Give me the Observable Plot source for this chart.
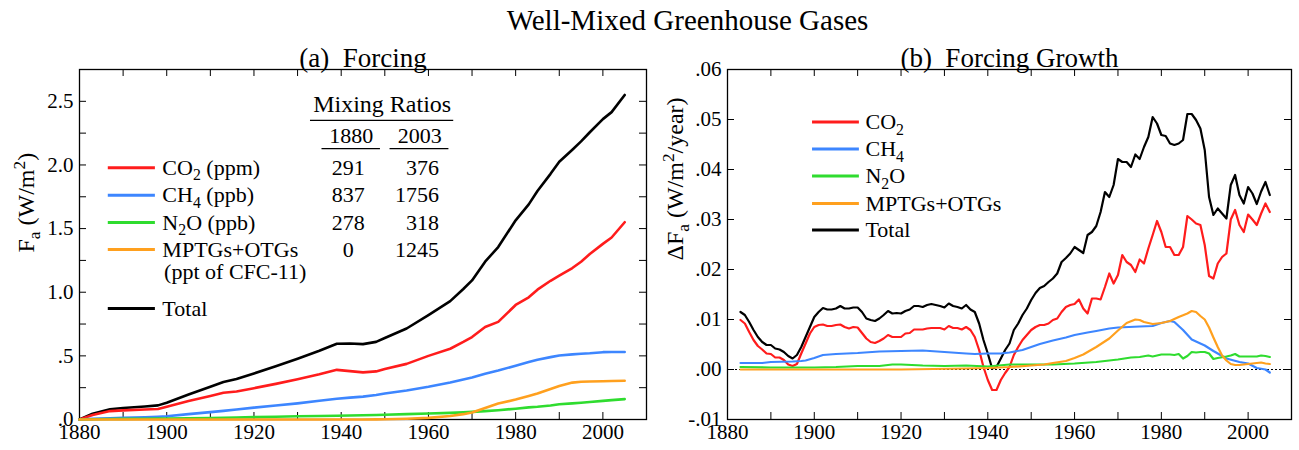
<!DOCTYPE html>
<html><head><meta charset="utf-8">
<script src="https://cdn.jsdelivr.net/npm/d3@7"></script>
<script src="https://cdn.jsdelivr.net/npm/@observablehq/plot@0.6"></script>
<style>
body{margin:0;background:#fff;}
#title{height:36px;line-height:40px;margin-left:76px;text-align:center;font-family:'Liberation Serif','Times New Roman',serif;font-size:29px;color:#000;white-space:nowrap;}
#row{display:flex;}
</style></head><body>
<div id="title">Well-Mixed Greenhouse Gases</div>
<div id="row"></div>
<script>
// ---------------- DATA ----------------
// Panel (a): forcing (W/m2)
const forcingYears = [1880,1883,1887,1890,1895,1898,1900,1905,1910,1913,1916,1920,1925,1930,1935,1939,1942,1945,1948,1950,1955,1960,1965,1968,1970,1973,1976,1980,1983,1985,1988,1990,1993,1995,1997,2000,2002,2005];
const forcingTotal = [0,0.045,0.08,0.09,0.102,0.111,0.132,0.197,0.258,0.295,0.318,0.362,0.418,0.478,0.54,0.595,0.597,0.592,0.61,0.64,0.715,0.82,0.93,1.025,1.093,1.24,1.355,1.565,1.69,1.795,1.93,2.025,2.12,2.185,2.257,2.36,2.415,2.55];
const forcingCO2 = [0,0.035,0.066,0.072,0.078,0.082,0.10,0.145,0.185,0.21,0.22,0.246,0.28,0.317,0.355,0.39,0.38,0.37,0.378,0.397,0.437,0.50,0.556,0.61,0.648,0.727,0.767,0.90,0.96,1.02,1.09,1.13,1.19,1.24,1.30,1.38,1.43,1.55];
const forcingCH4 = [0,0.005,0.01,0.013,0.018,0.022,0.026,0.042,0.058,0.068,0.078,0.093,0.11,0.127,0.147,0.163,0.172,0.18,0.192,0.204,0.228,0.257,0.29,0.315,0.33,0.36,0.385,0.423,0.452,0.47,0.49,0.503,0.512,0.516,0.52,0.529,0.53,0.53];
const forcingN2O = [0,0.002,0.004,0.005,0.006,0.007,0.008,0.01,0.012,0.014,0.016,0.019,0.022,0.025,0.028,0.03,0.031,0.033,0.035,0.037,0.042,0.047,0.052,0.056,0.06,0.066,0.073,0.085,0.095,0.10,0.11,0.12,0.127,0.132,0.138,0.146,0.152,0.16];
const forcingMPTG = [0,0,0,0,0,0,0,0,0,0,0,0,0,0,0,0,0,0,0.001,0.002,0.006,0.013,0.027,0.042,0.055,0.09,0.125,0.157,0.185,0.205,0.24,0.263,0.29,0.297,0.299,0.301,0.303,0.305];

// Panel (b): forcing growth (W/m2/year)
const growthYears = d3.range(1883, 2006);
const growthTotal = [0.0115,0.0109,0.0095,0.0079,0.0065,0.0055,0.0049,0.0049,0.0042,0.0040,0.0035,0.0027,0.0022,0.0029,0.0045,0.0065,0.0085,
0.0105,0.0115,0.0123,0.0120,0.0120,0.0122,0.0127,0.0122,0.0122,0.0124,
0.0124,0.0115,0.0102,0.0099,0.0097,0.0102,0.0109,0.0117,0.0112,0.0113,
0.0112,0.0117,0.0120,0.0127,0.0127,0.0125,0.0129,0.0131,0.0129,0.0127,
0.0124,0.0132,0.0127,0.0125,0.0122,0.0129,0.0120,0.0115,0.0092,0.0059,
0.0032,0.0002,0.0005,0.0022,0.0039,0.0052,0.0079,0.0092,0.0109,0.0122,
0.0139,0.0153,0.0163,0.0167,0.0175,0.0182,0.0192,0.0215,0.0223,0.0232,
0.0245,0.0239,0.0233,0.0269,0.0275,0.0287,0.0315,0.0355,0.0345,0.0369,
0.0421,0.0415,0.0415,0.0405,0.0430,0.0421,0.0445,0.0465,0.0505,0.0492,
0.0469,0.0467,0.0452,0.0449,0.0452,0.0459,0.0511,0.0511,0.0499,0.0482,
0.0439,0.0345,0.0309,0.0322,0.0312,0.0302,0.0369,0.0389,0.0349,0.0332,
0.0365,0.0352,0.0331,0.0356,0.0375,0.0349];
const growthCO2 = [0.0099,0.0092,0.0075,0.0059,0.0047,0.0040,0.0032,0.0031,0.0024,0.0024,0.0019,0.0010,0.0007,0.0011,0.0032,0.0052,0.0072,
0.0085,0.0089,0.0090,0.0087,0.0087,0.0089,0.0090,0.0085,0.0082,0.0085,
0.0084,0.0073,0.0062,0.0055,0.0053,0.0057,0.0062,0.0069,0.0065,0.0065,
0.0065,0.0072,0.0073,0.0080,0.0080,0.0080,0.0082,0.0083,0.0083,0.0083,
0.0080,0.0087,0.0083,0.0083,0.0080,0.0085,0.0079,0.0065,0.0039,0.0005,
-0.0021,-0.0041,-0.0041,-0.0021,-0.0007,0.0005,0.0029,0.0045,0.0059,0.0069,
0.0079,0.0085,0.0089,0.0089,0.0092,0.0099,0.0102,0.0115,0.0125,0.0129,
0.0131,0.0140,0.0122,0.0112,0.0142,0.0142,0.0140,0.0165,0.0192,0.0172,
0.0189,0.0229,0.0215,0.0209,0.0195,0.0220,0.0212,0.0242,0.0269,0.0297,
0.0275,0.0245,0.0245,0.0229,0.0229,0.0245,0.0307,0.0300,0.0292,0.0289,
0.0249,0.0187,0.0182,0.0212,0.0225,0.0232,0.0300,0.0319,0.0289,0.0275,
0.0310,0.0300,0.0289,0.0312,0.0332,0.0315];
const ch4Years = [1883,1888,1890,1895,1897,1898,1900,1902,1905,1910,1915,1920,1925,1930,1935,1937,1940,1943,1945,1948,1950,1952,1955,1958,1960,1963,1965,1968,1970,1975,1978,1980,1982,1983,1985,1987,1989,1990,1992,1995,1998,2000,2002,2004,2005];
const growthCH4 = [0.0013,0.0013,0.0015,0.0016,0.0017,0.0018,0.0023,0.0029,0.0031,0.0033,0.0036,0.0037,0.0038,0.0035,0.0032,0.0031,0.0032,0.0032,0.0034,0.0039,0.0045,0.0051,0.0058,0.0064,0.0069,0.0074,0.0077,0.0082,0.0084,0.0086,0.0087,0.0093,0.0097,0.0095,0.0079,0.0060,0.0052,0.0048,0.0037,0.0022,0.0015,0.0012,0.0003,0.0000,-0.0006];
const n2oYears = [1883,1890,1895,1900,1905,1910,1915,1918,1920,1925,1930,1935,1940,1945,1950,1955,1960,1965,1970,1973,1975,1977,1978,1980,1982,1983,1984,1985,1986,1987,1988,1989,1990,1991,1992,1993,1995,1996,1997,1998,2000,2002,2003,2004,2005];
const growthN2O = [0.0005,0.0004,0.0004,0.0004,0.0005,0.0007,0.0007,0.0010,0.0010,0.0008,0.0007,0.0008,0.0006,0.0010,0.0010,0.0010,0.0012,0.0015,0.0020,0.0024,0.0025,0.0028,0.0026,0.0030,0.0030,0.0029,0.0031,0.0022,0.0027,0.0035,0.0034,0.0035,0.0035,0.0032,0.0021,0.0023,0.0026,0.0028,0.0031,0.0026,0.0026,0.0026,0.0028,0.0027,0.0025];
const mptgYears = [1883,1900,1920,1935,1940,1945,1950,1953,1955,1958,1960,1962,1965,1968,1970,1972,1974,1975,1976,1978,1980,1982,1984,1986,1987,1988,1989,1990,1991,1992,1993,1994,1995,1996,1997,1998,2000,2002,2003,2004,2005];
const growthMPTG = [0,0,0,0.0002,0.0003,0.0005,0.0008,0.0010,0.0013,0.0017,0.0023,0.0030,0.0045,0.0062,0.0078,0.0093,0.0100,0.0099,0.0095,0.0091,0.0093,0.0097,0.0105,0.0112,0.0117,0.0115,0.0107,0.0100,0.0084,0.0064,0.0045,0.0028,0.0018,0.0011,0.0009,0.0009,0.0011,0.0013,0.0014,0.0012,0.0011];

// Legend / table text
const legendLabelsA = ["CO_2 (ppm)", "CH_4 (ppb)", "N_2O (ppb)", "MPTGs+OTGs", "Total"];
const legendNoteA = "(ppt of CFC-11)";
const legendLabelsB = ["CO_2", "CH_4", "N_2O", "MPTGs+OTGs", "Total"];
const tableTitle = "Mixing Ratios";
const tableYears = ["1880", "2003"];
const ratios1880 = ["291", "837", "278", "0"];
const ratios2003 = ["376", "1756", "318", "1245"];

// Ticks and tick labels
const yearTicks = [1890,1900,1910,1920,1930,1940,1950,1960,1970,1980,1990,2000];
const yearLabelValues = [1880,1900,1920,1940,1960,1980,2000];
const forcingTicks = [0.25,0.5,0.75,1,1.25,1.5,1.75,2,2.25,2.5];
const forcingLabelValues = [0,0.5,1,1.5,2,2.5];
const forcingLabels = [".0", ".5", "1.0", "1.5", "2.0", "2.5"];
const growthTicks = [0,0.01,0.02,0.03,0.04,0.05];
const growthLabelValues = [-0.01,0,0.01,0.02,0.03,0.04,0.05,0.06];
const growthLabels = ["-.01", ".00", ".01", ".02", ".03", ".04", ".05", ".06"];

// ---------------- STYLE / LAYOUT ----------------
const colors = ["#ff1c1c", "#3d86ff", "#2fdc2f", "#ffa01e", "#000000"]; // CO2, CH4, N2O, MPTG, Total
const fontFamily = "'Liberation Serif','Times New Roman',serif";
const H = 414, mT = 33, mB = 31, innerH = H - mT - mB, tk = 7;

const rows = (years, vals) => years.map((year, i) => ({year, value: vals[i]}));
const sub = (arr, idx) => idx.map(i => arr[i]);

function ticksMarks(innerW, yT) {
  return [
    Plot.tickY(yT, {y: d => d, insetRight: innerW - tk, stroke: "black"}),
    Plot.tickY(yT, {y: d => d, insetLeft: innerW - tk, stroke: "black"}),
    Plot.tickX(yearTicks, {x: d => d, insetTop: innerH - tk, stroke: "black"}),
    Plot.tickX(yearTicks, {x: d => d, insetBottom: innerH - tk, stroke: "black"})
  ];
}

// ---- Panel A ----
const wA = 650, mLA = 79, mRA = 4, innerWA = wA - mLA - mRA;
const seriesA = [
  rows(forcingYears, forcingCO2), rows(forcingYears, forcingCH4), rows(forcingYears, forcingN2O),
  rows(forcingYears, forcingMPTG), rows(forcingYears, forcingTotal)
];
const drawOrderA = [4, 0, 1, 2, 3];
const legRowYA = [1.979, 1.762, 1.547, 1.335, 0.872];
const legendA = legendLabelsA.map((label, i) => ({label, y: legRowYA[i], color: colors[i]}));

const marksA = [
  Plot.frame({stroke: "black", strokeWidth: 1.3}),
  ...ticksMarks(innerWA, forcingTicks),
  Plot.axisX({ticks: yearLabelValues, tickFormat: d => String(d), tickSize: 0, tickPadding: 5, label: null}),
  Plot.axisY({ticks: forcingLabelValues, tickFormat: d => forcingLabels[forcingLabelValues.indexOf(d)], tickSize: 0, tickPadding: 6, label: null}),
  ...drawOrderA.map(i => Plot.line(seriesA[i], {x: "year", y: "value", stroke: colors[i], strokeWidth: 2.6, curve: "linear"})),
  ...legendA.map(d => Plot.ruleY([d.y], {x1: 1886.6, x2: 1897.4, stroke: d.color, strokeWidth: 3})),
  Plot.text(legendA, {x: 1899.0, y: "y", text: "label", textAnchor: "start", fontSize: 22}),
  Plot.text([legendNoteA], {x: 1899.4, y: 1.157, text: d => d, textAnchor: "start", fontSize: 22}),
  Plot.text([tableTitle], {x: 1949.4, y: 2.477, text: d => d, fontSize: 24}),
  Plot.ruleY([2.35], {x1: 1932.96, x2: 1965.8, stroke: "black", strokeWidth: 1.2}),
  Plot.text(tableYears, {x: (d, i) => [1942.3, 1958.0][i], y: 2.229, text: d => d, fontSize: 22}),
  Plot.ruleY([2.129], {x1: 1935.6, x2: 1949.0, stroke: "black", strokeWidth: 1.2}),
  Plot.ruleY([2.129], {x1: 1951.2, x2: 1964.7, stroke: "black", strokeWidth: 1.2}),
  Plot.text(ratios1880, {x: 1941.6, y: (d, i) => legRowYA[i], text: d => d, fontSize: 22}),
  Plot.text(ratios2003, {x: 1962.4, y: (d, i) => legRowYA[i], text: d => d, textAnchor: "end", fontSize: 22}),
  Plot.text(["(a)\u00a0\u00a0Forcing"], {frameAnchor: "top", dy: -22, fontSize: 27}),
  Plot.text(["F_a (W/m^2)"], {frameAnchor: "left", dx: -53, dy: 8, rotate: -90, fontSize: 24})
];

const chartA = Plot.plot({
  width: wA, height: H, marginTop: mT, marginBottom: mB, marginLeft: mLA, marginRight: mRA,
  style: {fontFamily, fontSize: "21px", background: "white", color: "black", overflow: "visible"},
  x: {domain: [1880, 2010]},
  y: {domain: [0, 2.75]},
  marks: marksA
});

// ---- Panel B ----
const wB = 649, mLB = 77, mRB = 8, innerWB = wB - mLB - mRB;
const seriesB = [
  rows(growthYears, growthCO2), rows(ch4Years, growthCH4), rows(n2oYears, growthN2O),
  rows(mptgYears, growthMPTG), rows(growthYears, growthTotal)
];
const drawOrderB = [4, 0, 1, 2, 3];
const legRowYB = [0.0495, 0.0441, 0.0387, 0.0332, 0.0279];
const legendB = legendLabelsB.map((label, i) => ({label, y: legRowYB[i], color: colors[i]}));

const marksB = [
  Plot.frame({stroke: "black", strokeWidth: 1.3}),
  ...ticksMarks(innerWB, growthTicks),
  Plot.ruleY([0], {stroke: "black", strokeWidth: 1, strokeDasharray: "2,2"}),
  Plot.axisX({ticks: yearLabelValues, tickFormat: d => String(d), tickSize: 0, tickPadding: 5, label: null}),
  Plot.axisY({ticks: growthLabelValues, tickFormat: d => growthLabels[growthLabelValues.indexOf(d)], tickSize: 0, tickPadding: 6, label: null}),
  ...drawOrderB.map(i => Plot.line(seriesB[i], {x: "year", y: "value", stroke: colors[i], strokeWidth: 2.2, curve: "linear"})),
  ...legendB.map(d => Plot.ruleY([d.y], {x1: 1899.6, x2: 1910.4, stroke: d.color, strokeWidth: 2.8})),
  Plot.text(legendB, {x: 1911.8, y: "y", text: "label", textAnchor: "start", fontSize: 22}),
  Plot.text(["(b)\u00a0\u00a0Forcing Growth"], {frameAnchor: "top", dy: -22, fontSize: 27}),
  Plot.text(["\u0394F_a (W/m^2/year)"], {frameAnchor: "left", dx: -52, dy: 16, rotate: -90, fontSize: 24})
];

const chartB = Plot.plot({
  width: wB, height: H, marginTop: mT, marginBottom: mB, marginLeft: mLB, marginRight: mRB,
  style: {fontFamily, fontSize: "21px", background: "white", color: "black", overflow: "visible"},
  x: {domain: [1880, 2010]},
  y: {domain: [-0.01, 0.06]},
  marks: marksB
});

const row = document.getElementById("row");
row.appendChild(chartA);
row.appendChild(chartB);

// ---- sub/superscript post-processing (_x subscript, ^x superscript) ----
function richify(svg) {
  const ns = "http://www.w3.org/2000/svg";
  svg.querySelectorAll("text").forEach(t => {
    const s = t.textContent;
    if (!/[_^]/.test(s) || t.querySelector("tspan")) return;
    const fs = parseFloat(getComputedStyle(t).fontSize) || 22;
    const runs = [];
    for (let i = 0; i < s.length; i++) {
      let c = s[i], mode = 0;
      if ((c === "_" || c === "^") && i + 1 < s.length) { mode = c === "_" ? 1 : -1; c = s[++i]; }
      const last = runs[runs.length - 1];
      if (last && last.mode === mode) last.text += c; else runs.push({mode, text: c});
    }
    t.textContent = "";
    let shift = 0;
    for (const r of runs) {
      const ts = document.createElementNS(ns, "tspan");
      const target = r.mode === 1 ? 0.25 * fs : r.mode === -1 ? -0.4 * fs : 0;
      if (target !== shift) { ts.setAttribute("dy", (target - shift).toFixed(2)); shift = target; }
      if (r.mode) ts.setAttribute("font-size", (0.72 * fs).toFixed(1));
      ts.textContent = r.text;
      t.appendChild(ts);
    }
  });
}
richify(chartA);
richify(chartB);
</script></body></html>
